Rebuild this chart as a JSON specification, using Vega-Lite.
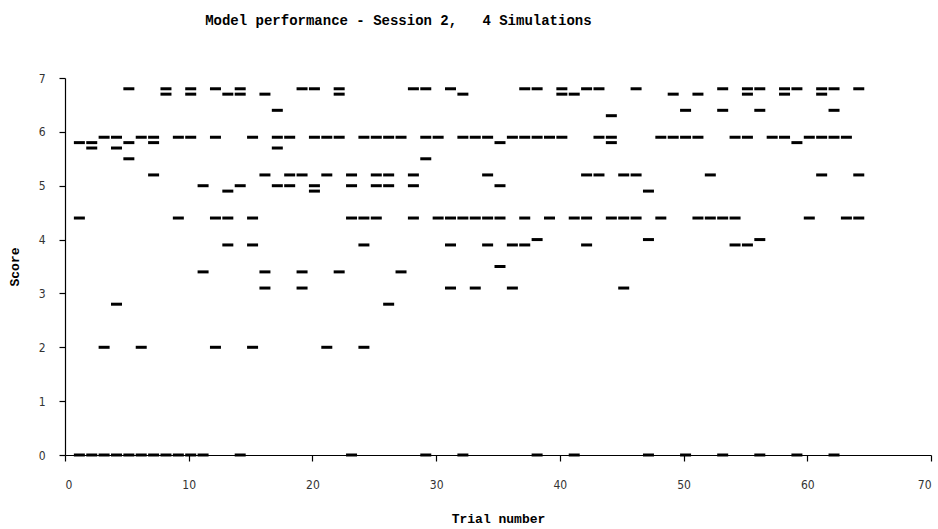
{
  "$schema": "https://vega.github.io/schema/vega-lite/v6.json",
  "width": 866,
  "height": 377,
  "autosize": {"type": "none"},
  "padding": {"left": 65, "top": 78, "right": 7, "bottom": 74},
  "background": "white",
  "title": {
    "text": "Model performance - Session 2,\u00a0\u00a0\u00a04 Simulations",
    "font": "Liberation Mono",
    "fontSize": 14,
    "fontWeight": "bold",
    "color": "black",
    "anchor": "start",
    "dx": 197,
    "offset": 44
  },
  "config": {
    "view": {"stroke": null},
    "axis": {
      "grid": false,
      "domainColor": "black",
      "domainWidth": 1.2,
      "tickColor": "black",
      "tickWidth": 1.2,
      "tickSize": 6,
      "labelFont": "Liberation Sans Narrow, DejaVu Sans Condensed, Roboto Condensed, Roboto, sans-serif",
      "labelFontSize": 12,
      "labelColor": "#333333",
      "titleFont": "Liberation Mono",
      "titleFontSize": 13,
      "titleFontWeight": "bold",
      "titleColor": "black"
    }
  },
  "data": {
    "values": [
      {"t":1,"s":5.8},{"t":1,"s":4.4},{"t":1,"s":0},
      {"t":2,"s":5.8},{"t":2,"s":5.7},{"t":2,"s":0},
      {"t":3,"s":5.9},{"t":3,"s":2.0},{"t":3,"s":0},
      {"t":4,"s":5.9},{"t":4,"s":5.7},{"t":4,"s":2.8},{"t":4,"s":0},
      {"t":5,"s":6.8},{"t":5,"s":5.8},{"t":5,"s":5.5},{"t":5,"s":0},
      {"t":6,"s":5.9},{"t":6,"s":2.0},{"t":6,"s":0},
      {"t":7,"s":5.9},{"t":7,"s":5.8},{"t":7,"s":5.2},{"t":7,"s":0},
      {"t":8,"s":6.8},{"t":8,"s":6.7},{"t":8,"s":0},
      {"t":9,"s":5.9},{"t":9,"s":4.4},{"t":9,"s":0},
      {"t":10,"s":6.8},{"t":10,"s":6.7},{"t":10,"s":5.9},{"t":10,"s":0},
      {"t":11,"s":5.0},{"t":11,"s":3.4},{"t":11,"s":0},
      {"t":12,"s":6.8},{"t":12,"s":5.9},{"t":12,"s":4.4},{"t":12,"s":2.0},
      {"t":13,"s":6.7},{"t":13,"s":4.9},{"t":13,"s":4.4},{"t":13,"s":3.9},
      {"t":14,"s":6.8},{"t":14,"s":6.7},{"t":14,"s":5.0},{"t":14,"s":0},
      {"t":15,"s":5.9},{"t":15,"s":4.4},{"t":15,"s":3.9},{"t":15,"s":2.0},
      {"t":16,"s":6.7},{"t":16,"s":5.2},{"t":16,"s":3.4},{"t":16,"s":3.1},
      {"t":17,"s":6.4},{"t":17,"s":5.9},{"t":17,"s":5.7},{"t":17,"s":5.0},
      {"t":18,"s":5.9},{"t":18,"s":5.2},{"t":18,"s":5.0},
      {"t":19,"s":6.8},{"t":19,"s":5.2},{"t":19,"s":3.4},{"t":19,"s":3.1},
      {"t":20,"s":6.8},{"t":20,"s":5.9},{"t":20,"s":5.0},{"t":20,"s":4.9},
      {"t":21,"s":5.9},{"t":21,"s":5.2},{"t":21,"s":2.0},
      {"t":22,"s":6.8},{"t":22,"s":6.7},{"t":22,"s":5.9},{"t":22,"s":3.4},
      {"t":23,"s":5.2},{"t":23,"s":5.0},{"t":23,"s":4.4},{"t":23,"s":0},
      {"t":24,"s":5.9},{"t":24,"s":4.4},{"t":24,"s":3.9},{"t":24,"s":2.0},
      {"t":25,"s":5.9},{"t":25,"s":5.2},{"t":25,"s":5.0},{"t":25,"s":4.4},
      {"t":26,"s":5.9},{"t":26,"s":5.2},{"t":26,"s":5.0},{"t":26,"s":2.8},
      {"t":27,"s":5.9},{"t":27,"s":3.4},
      {"t":28,"s":6.8},{"t":28,"s":5.2},{"t":28,"s":5.0},{"t":28,"s":4.4},
      {"t":29,"s":6.8},{"t":29,"s":5.9},{"t":29,"s":5.5},{"t":29,"s":0},
      {"t":30,"s":5.9},{"t":30,"s":4.4},
      {"t":31,"s":6.8},{"t":31,"s":4.4},{"t":31,"s":3.9},{"t":31,"s":3.1},
      {"t":32,"s":6.7},{"t":32,"s":5.9},{"t":32,"s":4.4},{"t":32,"s":0},
      {"t":33,"s":5.9},{"t":33,"s":4.4},{"t":33,"s":3.1},
      {"t":34,"s":5.9},{"t":34,"s":5.2},{"t":34,"s":4.4},{"t":34,"s":3.9},
      {"t":35,"s":5.8},{"t":35,"s":5.0},{"t":35,"s":4.4},{"t":35,"s":3.5},
      {"t":36,"s":5.9},{"t":36,"s":3.9},{"t":36,"s":3.1},
      {"t":37,"s":6.8},{"t":37,"s":5.9},{"t":37,"s":4.4},{"t":37,"s":3.9},
      {"t":38,"s":6.8},{"t":38,"s":5.9},{"t":38,"s":4.0},{"t":38,"s":0},
      {"t":39,"s":5.9},{"t":39,"s":4.4},
      {"t":40,"s":6.8},{"t":40,"s":6.7},{"t":40,"s":5.9},
      {"t":41,"s":6.7},{"t":41,"s":4.4},{"t":41,"s":0},
      {"t":42,"s":6.8},{"t":42,"s":5.2},{"t":42,"s":4.4},{"t":42,"s":3.9},
      {"t":43,"s":6.8},{"t":43,"s":5.9},{"t":43,"s":5.2},
      {"t":44,"s":6.3},{"t":44,"s":5.9},{"t":44,"s":5.8},{"t":44,"s":4.4},
      {"t":45,"s":5.2},{"t":45,"s":4.4},{"t":45,"s":3.1},
      {"t":46,"s":6.8},{"t":46,"s":5.2},{"t":46,"s":4.4},
      {"t":47,"s":4.9},{"t":47,"s":4.0},{"t":47,"s":0},
      {"t":48,"s":5.9},{"t":48,"s":4.4},
      {"t":49,"s":6.7},{"t":49,"s":5.9},
      {"t":50,"s":6.4},{"t":50,"s":5.9},{"t":50,"s":0},
      {"t":51,"s":6.7},{"t":51,"s":5.9},{"t":51,"s":4.4},
      {"t":52,"s":5.2},{"t":52,"s":4.4},
      {"t":53,"s":6.8},{"t":53,"s":6.4},{"t":53,"s":4.4},{"t":53,"s":0},
      {"t":54,"s":5.9},{"t":54,"s":4.4},{"t":54,"s":3.9},
      {"t":55,"s":6.8},{"t":55,"s":6.7},{"t":55,"s":5.9},{"t":55,"s":3.9},
      {"t":56,"s":6.8},{"t":56,"s":6.4},{"t":56,"s":4.0},{"t":56,"s":0},
      {"t":57,"s":5.9},
      {"t":58,"s":6.8},{"t":58,"s":6.7},{"t":58,"s":5.9},
      {"t":59,"s":6.8},{"t":59,"s":5.8},{"t":59,"s":0},
      {"t":60,"s":5.9},{"t":60,"s":4.4},
      {"t":61,"s":6.8},{"t":61,"s":6.7},{"t":61,"s":5.9},{"t":61,"s":5.2},
      {"t":62,"s":6.8},{"t":62,"s":6.4},{"t":62,"s":5.9},{"t":62,"s":0},
      {"t":63,"s":5.9},{"t":63,"s":4.4},
      {"t":64,"s":6.8},{"t":64,"s":5.2},{"t":64,"s":4.4}
    ]
  },
  "mark": {
    "type": "tick",
    "orient": "horizontal",
    "size": 11,
    "thickness": 3,
    "color": "black",
    "opacity": 1,
    "xOffset": 2
  },
  "encoding": {
    "x": {
      "field": "t",
      "type": "quantitative",
      "scale": {"domain": [0, 70], "nice": false, "zero": false},
      "axis": {
        "values": [0, 10, 20, 30, 40, 50, 60, 70],
        "title": "Trial number",
        "labelPadding": 18,
        "titlePadding": 22
      }
    },
    "y": {
      "field": "s",
      "type": "quantitative",
      "scale": {"domain": [0, 7], "nice": false},
      "axis": {
        "values": [0, 1, 2, 3, 4, 5, 6, 7],
        "title": "Score",
        "labelPadding": 14,
        "titlePadding": 17
      }
    }
  }
}
